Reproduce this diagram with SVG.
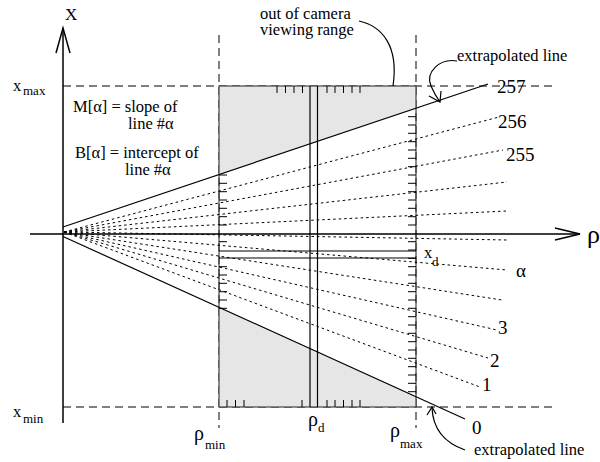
<svg xmlns="http://www.w3.org/2000/svg" width="600" height="462" viewBox="0 0 600 462">
<style>
text{font-family:'Liberation Serif','DejaVu Serif',serif;fill:#000}
.t{font-size:16.5px}
.n{font-size:19px}
.s{font-size:13px}
.ax{stroke:#000;stroke-width:1.5;fill:none}
.ld{stroke:#000;stroke-width:1;stroke-dasharray:8,5;fill:none}
.fan{stroke:#000;stroke-width:1;stroke-dasharray:2.5,3;fill:none}
.sol{stroke:#000;stroke-width:1.2;fill:none}
.tk{stroke:#000;stroke-width:1;fill:none}
.box{stroke:#444;stroke-width:1.2;fill:none}
.gr{fill:#e6e6e6;stroke:none}
</style>
<rect width="600" height="462" fill="#fff"/>
<g id="guides">
<line class="ld" x1="63" y1="86" x2="557" y2="86"/>
<line class="ld" x1="63" y1="407" x2="557" y2="407"/>
<line class="ld" x1="219" y1="35" x2="219" y2="428"/>
<line class="ld" x1="416" y1="35" x2="416" y2="428"/>
</g>
<g id="viewing-box">
<polygon class="gr" points="219,86 416,86 416,109 219,174.5"/>
<polygon class="gr" points="219,307 416,396 416,407 219,407"/>
<rect class="box" x="219" y="86" width="197" height="321"/>
<line class="sol" x1="310" y1="86" x2="310" y2="407"/>
<line class="sol" x1="317.5" y1="86" x2="317.5" y2="407"/>
<line class="sol" x1="219" y1="251" x2="416" y2="251"/>
<line class="sol" x1="219" y1="258" x2="416" y2="258"/>
<path class="tk" d="M277,86v7M285.5,86v7M294,86v7M302.5,86v7M327,86v7M335,86v7M343.5,86v7M352,86v7M360,86v7"/>
<path class="tk" d="M227,407v-7M235.5,407v-7M244,407v-7M302,407v-7M327,407v-7M335,407v-7M343.5,407v-7M352,407v-7M360,407v-7"/>
<path class="tk" d="M219,175h8M219,183.3h8M219,191.7h8M219,200h8M219,208.3h8M219,216.7h8M219,225h8M219,241.7h8M219,266.7h8M219,275h8M219,283.3h8M219,291.7h8M219,300h8M219,308.3h8"/>
<path class="tk" d="M416,116.7h-8M416,125h-8M416,133.3h-8M416,141.7h-8M416,150h-8M416,158.3h-8M416,166.7h-8M416,175h-8M416,183.3h-8M416,191.7h-8M416,200h-8M416,208.3h-8M416,216.7h-8M416,225h-8M416,241.7h-8M416,250h-8M416,258.3h-8M416,266.7h-8M416,275h-8M416,283.3h-8M416,291.7h-8M416,300h-8M416,308.3h-8M416,316.7h-8M416,325h-8M416,333.3h-8M416,341.7h-8M416,350h-8M416,358.3h-8M416,366.7h-8M416,375h-8M416,383.3h-8M416,391.7h-8"/>
</g>
<g id="connectors">
<line class="sol" x1="63" y1="227" x2="488" y2="84"/>
<line class="sol" x1="63" y1="236.5" x2="465" y2="419"/>
<line class="fan" x1="64" y1="232" x2="499" y2="117"/>
<line class="fan" x1="64" y1="232" x2="503" y2="150"/>
<line class="fan" x1="64" y1="232" x2="507" y2="182"/>
<line class="fan" x1="64" y1="232" x2="507" y2="211"/>
<line class="fan" x1="64" y1="232" x2="507" y2="240"/>
<line class="fan" x1="64" y1="232" x2="507" y2="270"/>
<line class="fan" x1="64" y1="232" x2="502" y2="300"/>
<line class="fan" x1="64" y1="232" x2="497" y2="330"/>
<line class="fan" x1="64" y1="232" x2="488" y2="358"/>
<line class="fan" x1="64" y1="232" x2="480" y2="387"/>
<path class="sol" d="M359,21 C382,26 399,46 393,86"/>
<path class="sol" d="M457,61 C440,58 425,72 431,86 C434,93 437,98 440,102"/>
<polyline class="sol" points="429,96 440,102 441,91"/>
<path class="sol" d="M465,450 C445,443 433,430 432,408"/>
<polyline class="sol" points="427,415 432,407 436,414"/>
</g>
<g id="axes" font-family="'Liberation Serif', serif">
<line class="ax" x1="63" y1="28" x2="63" y2="423"/>
<polyline class="ax" points="56,53 63,28 70,53"/>
<line class="ax" x1="30" y1="234" x2="580" y2="234"/>
<polyline class="ax" points="555,228 580,234 555,240"/>
<text x="65" y="20" font-size="17">X</text>
<text x="587" y="243" font-size="26">ρ</text>
</g>
<g id="labels" font-family="'Liberation Serif', serif">
<text x="13" y="91" class="t">x</text><text x="23" y="95" class="s">max</text>
<text x="13" y="417" class="t">x</text><text x="23" y="423" class="s">min</text>
<text x="73" y="112" class="t">M[α] = slope of</text>
<text x="128" y="129" class="t">line #α</text>
<text x="75" y="158" class="t">B[α] = intercept of</text>
<text x="125" y="175" class="t">line #α</text>
<text x="260" y="19" class="t">out of camera</text>
<text x="260" y="35" class="t">viewing range</text>
<text x="457" y="61" class="t">extrapolated line</text>
<text x="474" y="455" class="t">extrapolated line</text>
<text x="497" y="93" class="n">257</text>
<text x="498" y="128" class="n">256</text>
<text x="506" y="161" class="n">255</text>
<text x="516" y="277" class="n">α</text>
<text x="498" y="334" class="n">3</text>
<text x="490" y="367" class="n">2</text>
<text x="482" y="391" class="n">1</text>
<text x="472" y="434" class="n">0</text>
<text x="424" y="258" class="t">x</text><text x="432" y="266" class="s">d</text>
<text x="194" y="440" font-size="20">ρ</text><text x="205" y="449" class="s">min</text>
<text x="308" y="426" font-size="20">ρ</text><text x="318" y="432" class="s">d</text>
<text x="390" y="437" font-size="20">ρ</text><text x="400" y="448" class="s">max</text>
</g>
</svg>
